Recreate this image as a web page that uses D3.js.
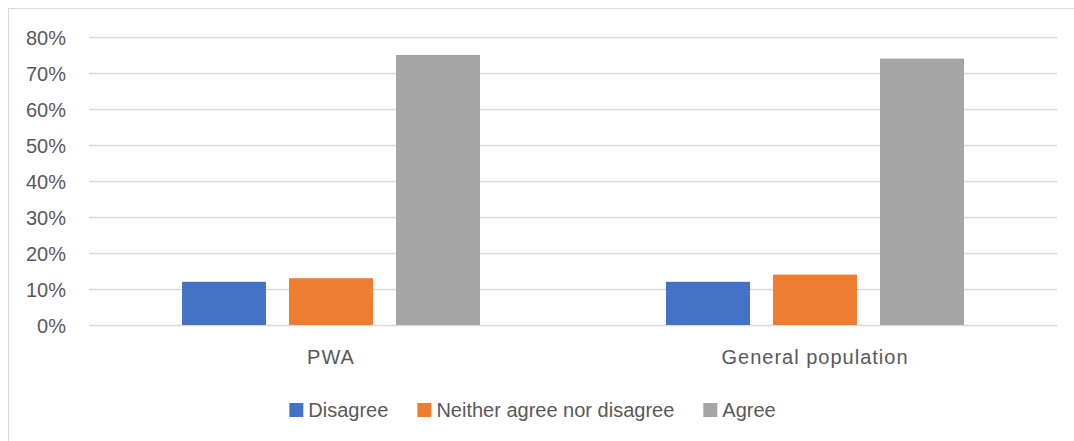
<!DOCTYPE html>
<html>
<head>
<meta charset="utf-8">
<script src="https://cdn.jsdelivr.net/npm/d3@7"></script>
<style>
  html, body { margin: 0; padding: 0; background: #ffffff; }
  svg { display: block; }
  text { font-family: "Liberation Sans", Arial, sans-serif; fill: #595959; }
</style>
</head>
<body>
<svg id="chart" width="1074" height="441"></svg>
<script>
// Survey responses by group
const categories = ["PWA", "General population"];
const seriesNames = ["Disagree", "Neither agree nor disagree", "Agree"];
const disagree = [0.12, 0.12];
const neither = [0.13, 0.14];
const agree = [0.75, 0.74];
const yTicks = [0, 0.1, 0.2, 0.3, 0.4, 0.5, 0.6, 0.7, 0.8];
const colors = ["#4472C4", "#ED7D31", "#A5A5A5"];

const seriesValues = [disagree, neither, agree];

const svg = d3.select("#chart");
const W = 1074, H = 441;

// Outer chart frame
svg.append("rect")
  .attr("x", 8.5).attr("y", 8.5)
  .attr("width", W + 10).attr("height", H + 10)
  .attr("fill", "#ffffff")
  .attr("stroke", "#d9d9d9").attr("stroke-width", 1);

const plot = { left: 89, right: 1057, top: 37, bottom: 325 };

const y = d3.scaleLinear().domain([0, 0.8]).range([plot.bottom, plot.top]);
const x0 = d3.scaleBand().domain(categories).range([plot.left, plot.right]).paddingInner(0).paddingOuter(0);
// bars within each category: 84px bars with 23px gaps
const groupW = x0.bandwidth();
const barW = 84, barGap = 23;
const clusterW = seriesNames.length * barW + (seriesNames.length - 1) * barGap;
const x1 = d3.scaleBand()
  .domain(seriesNames)
  .range([(groupW - clusterW) / 2, (groupW + clusterW) / 2])
  .paddingInner(barGap / (barW + barGap))
  .paddingOuter(0);

// Gridlines
const yAxis = d3.axisLeft(y).tickValues(yTicks).tickFormat(d3.format(".0%")).tickSize(0).tickPadding(0);
const gGrid = svg.append("g");
gGrid.selectAll("line").data(yTicks).join("line")
  .attr("x1", plot.left).attr("x2", plot.right)
  .attr("y1", d => Math.round(y(d)) + 0.5).attr("y2", d => Math.round(y(d)) + 0.5)
  .attr("stroke", "#d9d9d9").attr("stroke-width", 1.3);

// Y axis labels
const gy = svg.append("g").attr("transform", `translate(66,0)`).call(yAxis);
gy.select(".domain").remove();
gy.selectAll("text")
  .attr("font-size", 20)
  .attr("font-family", "'Liberation Sans', Arial, sans-serif")
  .attr("fill", "#595959")
  .attr("dy", "0.35em");

// Bars
const groups = svg.append("g").selectAll("g").data(categories).join("g")
  .attr("transform", d => `translate(${x0(d)},0)`);
groups.selectAll("rect")
  .data((c, ci) => seriesNames.map((s, si) => ({ s, si, v: seriesValues[si][ci] })))
  .join("rect")
  .attr("x", d => x1(d.s))
  .attr("width", x1.bandwidth())
  .attr("y", d => y(d.v))
  .attr("height", d => y(0) - y(d.v))
  .attr("fill", d => colors[d.si]);

// X axis category labels
const xAxis = d3.axisBottom(x0).tickSize(0).tickPadding(0);
const gx = svg.append("g").attr("transform", `translate(0,364)`).call(xAxis);
gx.select(".domain").remove();
gx.selectAll("text")
  .attr("font-size", 20)
  .attr("font-family", "'Liberation Sans', Arial, sans-serif")
  .attr("fill", "#595959")
  .attr("letter-spacing", 1)
  .attr("dy", 0);

// Legend
const legend = svg.append("g");
const items = legend.selectAll("g").data(seriesNames).join("g");
items.append("rect")
  .attr("width", 14).attr("height", 14)
  .attr("y", 403)
  .attr("fill", (d, i) => colors[i]);
items.append("text")
  .attr("x", 19).attr("y", 417)
  .attr("font-size", 20)
  .text(d => d);
const widths = [];
items.each(function () {
  const w = this.querySelector("text").getComputedTextLength();
  widths.push(19 + w);
});
const itemGap = 29;
const totalW = d3.sum(widths) + itemGap * (widths.length - 1);
let start = 532.5 - totalW / 2;
items.attr("transform", (d, i) => {
  const t = `translate(${start},0)`;
  start += widths[i] + itemGap;
  return t;
});
</script>
</body>
</html>
